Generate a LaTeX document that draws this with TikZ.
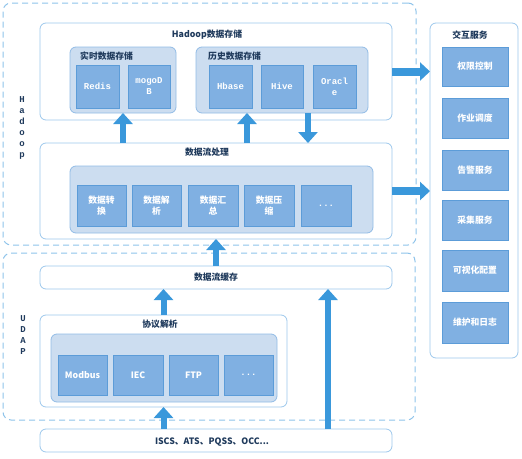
\documentclass[tikz,border=0pt]{standalone}
\usepackage{fontspec}
\newfontfamily\cjk{Noto Sans CJK SC}
\newfontfamily\mono{Liberation Mono}
\usetikzlibrary{arrows.meta}
\definecolor{dashcol}{HTML}{8EC3EA}
\definecolor{linecol}{HTML}{9DC8EC}
\definecolor{grpfill}{HTML}{CCDDF0}
\definecolor{grpline}{HTML}{92BCE6}
\definecolor{cellfill}{HTML}{80B0E2}
\definecolor{cellline}{HTML}{5C9CD8}
\definecolor{arrowcol}{HTML}{3A98DB}
\definecolor{titlecol}{HTML}{1F3A5C}
\begin{document}
\begin{tikzpicture}[x=1pt, y=-1pt,
font=\cjk\bfseries\fontsize{8.8}{10.5}\selectfont,
% common options for the dashed layers:
layer/.style = {draw=dashcol, line width=1pt, dash pattern=on 6pt off 4pt,
            rounded corners=8pt, anchor=north west, inner sep=0, outer sep=0},
% common options for the white frames:
frame/.style = {draw=linecol, fill=white, line width=0.8pt, rounded corners=6pt,
            anchor=north west, inner sep=0, outer sep=0},
% common options for the grey-blue groups:
group/.style = {draw=grpline, fill=grpfill, line width=0.8pt, rounded corners=6pt,
            anchor=north west, inner sep=0, outer sep=0},
% common options for the cells:
cell/.style = {draw=cellline, fill=cellfill, text=white, align=center,
            anchor=north west, inner sep=0, outer sep=0},
monocell/.style = {cell, font=\mono\bfseries\fontsize{9}{11}\selectfont},
title/.style = {text=titlecol, inner sep=0},
vlabel/.style = {text=titlecol, align=center, inner sep=0,
            font=\mono\bfseries\fontsize{9}{11}\selectfont},
% thick block arrows:
bigarrow/.style = {draw=arrowcol, line width=6pt, -{Triangle[width=19pt,length=11pt]}},
sidearrow/.style = {draw=arrowcol, line width=8pt, -{Triangle[width=18pt,length=10pt]}}]
\useasboundingbox (0,0) rectangle (522,458);
% layers
\node[layer, minimum width=413pt, minimum height=242pt] (hadoop) at (3,3) {};
\node[layer, minimum width=412pt, minimum height=167pt] (udap) at (3,253) {};
\node[vlabel] (hlab) at (22,128) {H\\a\\d\\o\\o\\p};
\node[vlabel] (ulab) at (23,335) {U\\D\\A\\P};
% Hadoop storage
\node[frame, minimum width=352pt, minimum height=97pt] (store) at (40,23) {};
\node[title] (storeT) at (207,35) {Hadoop数据存储};
\node[group, minimum width=106pt, minimum height=66pt] (rt) at (70,47) {};
\node[title, anchor=west] (rtT) at (80,56) {实时数据存储};
\node[monocell, minimum width=43pt, minimum height=43pt] (redis) at (76,65) {Redis};
\node[monocell, minimum width=42pt, minimum height=43pt] (mongo) at (128,65) {mogoD\\B};
\node[group, minimum width=172pt, minimum height=66pt] (hist) at (196,47) {};
\node[title, anchor=west] (histT) at (208,56) {历史数据存储};
\node[monocell, minimum width=43pt, minimum height=43pt] (hbase) at (209,65) {Hbase};
\node[monocell, minimum width=42pt, minimum height=43pt] (hive) at (261,65) {Hive};
\node[monocell, minimum width=43pt, minimum height=43pt] (oracle) at (313,65) {Oracl\\e};
% stream processing
\node[frame, minimum width=352pt, minimum height=96pt] (proc) at (40,143) {};
\node[title] (procT) at (207,152) {数据流处理};
\node[group, minimum width=303pt, minimum height=67pt] (procG) at (70,166) {};
\node[cell, minimum width=49pt, minimum height=41pt] (conv) at (77,185) {数据转\\换};
\node[cell, minimum width=49pt, minimum height=41pt] (parse) at (132,185) {数据解\\析};
\node[cell, minimum width=50pt, minimum height=41pt] (sum) at (188,185) {数据汇\\总};
\node[cell, minimum width=50pt, minimum height=41pt] (zip) at (244,185) {数据压\\缩};
\node[monocell, minimum width=50pt, minimum height=41pt] (more) at (301,185) {...};
% UDAP
\node[frame, minimum width=352pt, minimum height=23pt] (cache) at (40,266) {};
\node[title] (cacheT) at (216,277.5) {数据流缓存};
\node[frame, minimum width=247pt, minimum height=92pt] (proto) at (40,315) {};
\node[title] (protoT) at (160,324) {协议解析};
\node[group, minimum width=226pt, minimum height=68pt] (protoG) at (51,334) {};
\node[cell, minimum width=49pt, minimum height=40pt] (modbus) at (58,355) {Modbus};
\node[cell, minimum width=50pt, minimum height=40pt] (iec) at (113,355) {IEC};
\node[cell, minimum width=49pt, minimum height=40pt] (ftp) at (169,355) {FTP};
\node[monocell, minimum width=49pt, minimum height=40pt] (dots) at (224,355) {...};
\node[frame, minimum width=352pt, minimum height=23pt] (src) at (40,429) {};
\node[title] (srcT) at (212,442) {ISCS、ATS、PQSS、OCC...};
% interaction services
\node[frame, minimum width=88pt, minimum height=335pt] (svc) at (430,23) {};
\node[title] (svcT) at (470,35) {交互服务};
\node[cell, minimum width=66pt, minimum height=39pt] (auth) at (442,47) {权限控制};
\node[cell, minimum width=66pt, minimum height=40pt] (job) at (442,98) {作业调度};
\node[cell, minimum width=66pt, minimum height=40pt] (alarm) at (442,150) {告警服务};
\node[cell, minimum width=66pt, minimum height=40pt] (collect) at (442,200) {采集服务};
\node[cell, minimum width=66pt, minimum height=41pt] (vis) at (442,250) {可视化配置};
\node[cell, minimum width=66pt, minimum height=41pt] (log) at (442,302) {维护和日志};
% arrows
\coordinate (upH) at (247,0);
\coordinate (dnH) at (308,0);
\coordinate (tap) at (328,0);
\draw[bigarrow] (proc.north -| rt.south) -- (rt.south);
\draw[bigarrow] (proc.north -| upH) -- (hist.south -| upH);
\draw[bigarrow] (hist.south -| dnH) -- (proc.north -| dnH);
\draw[sidearrow] (store.east) -- (svc.west |- store.east);
\draw[sidearrow] (proc.east) -- (svc.west |- proc.east);
\draw[bigarrow] (cache.north) -- (proc.south -| cache.north);
\draw[bigarrow] (proto.north) -- (cache.south -| proto.north);
\draw[bigarrow] (src.north -| proto.south) -- (proto.south);
\draw[bigarrow] (src.north -| tap) -- (cache.south -| tap);
\end{tikzpicture}
\end{document}
